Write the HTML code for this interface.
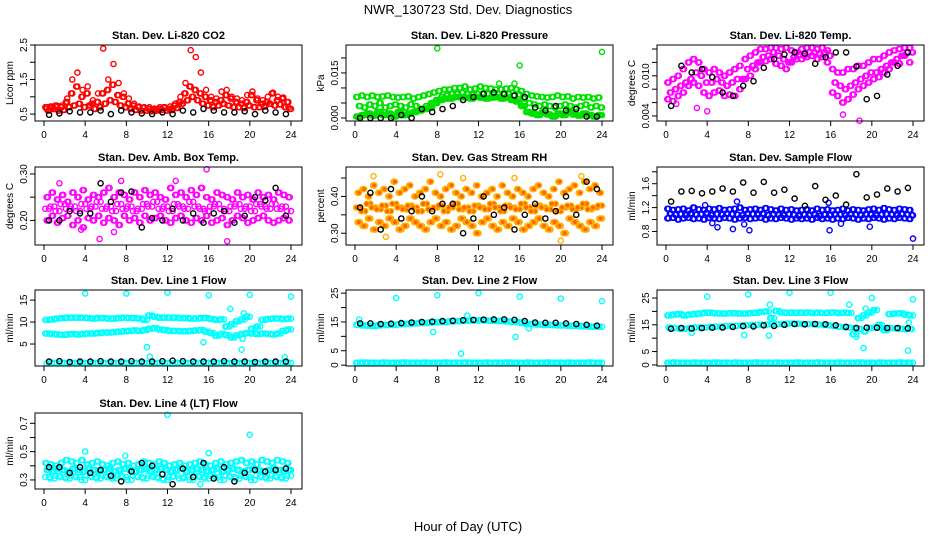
<!DOCTYPE html>
<html><head><meta charset="utf-8"><style>
html,body{margin:0;padding:0;background:#fff;}
svg{display:block;font-family:"Liberation Sans",sans-serif;}
</style></head><body>
<svg id="chart" width="936" height="540" viewBox="0 0 936 540">
<rect x="0" y="0" width="936" height="540" fill="#fff"/>
<text x="468" y="14" text-anchor="middle" font-size="13">NWR_130723 Std. Dev. Diagnostics</text>
<text x="468" y="531" text-anchor="middle" font-size="13">Hour of Day (UTC)</text>
</svg>
<script>
// shared hour arrays
const hA=[0.25,0.75,1.25,1.75,2.25,2.75,3.25,3.75,4.25,4.75,5.25,5.75,6.25,6.75,7.25,7.75,8.25,8.75,9.25,9.75,10.25,10.75,11.25,11.75,12.25,12.75,13.25,13.75,14.25,14.75,15.25,15.75,16.25,16.75,17.25,17.75,18.25,18.75,19.25,19.75,20.25,20.75,21.25,21.75,22.25,22.75,23.25,23.75];
const hB=[0.5,1,1.5,2,2.5,3,3.5,4,4.5,5,5.5,6,6.5,7,7.5,8,8.5,9,9.5,10,10.5,11,11.5,12,12.5,13,13.5,14,14.5,15,15.5,16,16.5,17,17.5,18,18.5,19,19.5,20,20.5,21,21.5,22,22.5,23,23.5,24];
const hC=[0.125,0.625,1.125,1.625,2.125,2.625,3.125,3.625,4.125,4.625,5.125,5.625,6.125,6.625,7.125,7.625,8.125,8.625,9.125,9.625,10.125,10.625,11.125,11.625,12.125,12.625,13.125,13.625,14.125,14.625,15.125,15.625,16.125,16.625,17.125,17.625,18.125,18.625,19.125,19.625,20.125,20.625,21.125,21.625,22.125,22.625,23.125,23.625];
const hD=[0.375,0.875,1.375,1.875,2.375,2.875,3.375,3.875,4.375,4.875,5.375,5.875,6.375,6.875,7.375,7.875,8.375,8.875,9.375,9.875,10.375,10.875,11.375,11.875,12.375,12.875,13.375,13.875,14.375,14.875,15.375,15.875,16.375,16.875,17.375,17.875,18.375,18.875,19.375,19.875,20.375,20.875,21.375,21.875,22.375,22.875,23.375,23.875];
const hK=[0.5,1.5,2.5,3.5,4.5,5.5,6.5,7.5,8.5,9.5,10.5,11.5,12.5,13.5,14.5,15.5,16.5,17.5,18.5,19.5,20.5,21.5,22.5,23.5];
const xTicks=[0,4,8,12,16,20,24];

// CO2
const co2RedA=[0.7,0.72,0.75,0.7,0.85,1.1,1.3,1.0,1.1,0.8,0.85,1.1,1.2,1.35,1.05,1.0,0.8,0.75,0.7,0.68,0.65,0.62,0.65,0.7,0.65,0.75,0.85,1.1,1.3,1.2,1.1,1.0,0.9,0.85,0.9,1.05,0.95,0.85,0.8,0.85,1.05,0.9,0.8,0.85,1.1,0.9,0.95,0.85];
const co2RedB=[0.6,0.65,0.6,0.62,0.7,0.75,0.8,0.7,0.75,0.65,0.7,0.8,0.9,0.85,0.75,0.7,0.65,0.62,0.6,0.6,0.58,0.6,0.62,0.6,0.62,0.68,0.8,0.9,1.0,0.9,0.8,0.75,0.7,0.75,0.8,0.75,0.7,0.7,0.68,0.75,0.7,0.7,0.72,0.8,0.75,0.78,0.7,0.65];
const co2RedC=[0.65,0.68,0.7,0.75,0.95,1.5,1.7,1.2,1.3,0.9,1.1,2.4,1.5,1.95,1.4,1.1,0.95,0.8,0.72,0.7,0.7,0.66,0.7,0.68,0.72,0.8,1.0,1.4,2.35,2.15,1.7,1.2,1.0,0.95,1.15,1.2,1.0,0.95,0.9,1.05,1.15,0.95,0.9,1.0,1.12,1.0,0.98,0.7];
const co2Black=[0.48,0.52,0.58,0.55,0.55,0.6,0.5,0.6,0.55,0.52,0.5,0.55,0.5,0.6,0.55,0.65,0.6,0.55,0.55,0.58,0.5,0.6,0.55,0.5];
// Pressure
const prGreenA=[0.007,0.0075,0.007,0.0075,0.007,0.0072,0.0075,0.007,0.0068,0.007,0.0072,0.0065,0.007,0.0075,0.008,0.0085,0.009,0.0095,0.0095,0.01,0.01,0.0105,0.0095,0.0098,0.0105,0.01,0.0098,0.0095,0.0095,0.0098,0.01,0.0095,0.009,0.008,0.0075,0.0072,0.007,0.0068,0.007,0.0075,0.007,0.0072,0.0065,0.007,0.0068,0.007,0.0065,0.0068];
const prGreenB=[0.004,0.0035,0.0045,0.004,0.005,0.0035,0.004,0.0045,0.004,0.0035,0.0045,0.004,0.003,0.004,0.005,0.006,0.007,0.0075,0.008,0.008,0.0085,0.008,0.0078,0.008,0.0082,0.008,0.0078,0.008,0.0082,0.008,0.0075,0.0078,0.0065,0.005,0.0045,0.004,0.0045,0.004,0.0035,0.004,0.0045,0.004,0.0035,0.004,0.0045,0.0035,0.004,0.0035];
const prGreenC=[0.0005,0.001,0.0015,0.0008,0.002,0.001,0.0015,0.0005,0.002,0.001,0.0015,0.002,0.0025,0.003,0.0035,0.005,0.006,0.0065,0.0065,0.007,0.007,0.0068,0.0065,0.007,0.0068,0.0065,0.0068,0.007,0.0065,0.0068,0.006,0.0055,0.004,0.002,0.0015,0.001,0.0018,0.0012,0.0005,0.0015,0.001,0.002,0.0012,0.0008,0.0015,0.001,0.0005,0.001];
const prOutH=[8,16,24,14,15.5];
const prOutV=[0.0232,0.0175,0.022,0.0115,0.0115];
const prBlack=[0,0,0,0,0.001,0,0.003,0.002,0.003,0.004,0.006,0.007,0.008,0.0085,0.008,0.0075,0.007,0.0035,0.0025,0.004,0.0025,0.003,0.0005,0.0005];
// Li-820 temp
const tmMagA=[0.009,0.0095,0.010,0.011,0.012,0.0125,0.012,0.011,0.0105,0.011,0.0105,0.010,0.0105,0.011,0.0115,0.0125,0.013,0.0135,0.014,0.014,0.0142,0.0142,0.014,0.0142,0.0138,0.0135,0.014,0.0142,0.0142,0.014,0.0142,0.0138,0.011,0.0105,0.0105,0.011,0.011,0.0115,0.0115,0.012,0.0125,0.0125,0.013,0.0135,0.0138,0.014,0.0142,0.0142];
const tmMagB=[0.0075,0.008,0.0085,0.009,0.0095,0.0105,0.01,0.009,0.009,0.0095,0.009,0.0085,0.009,0.0095,0.0095,0.011,0.0115,0.012,0.0128,0.013,0.0135,0.013,0.0125,0.012,0.0128,0.0132,0.013,0.0135,0.0135,0.0132,0.0135,0.013,0.009,0.0085,0.008,0.0085,0.009,0.0095,0.01,0.0105,0.0105,0.011,0.0115,0.012,0.0125,0.013,0.0135,0.0135];
const tmMagC=[0.0065,0.0062,0.007,0.0075,0.0085,0.009,0.0085,0.0075,0.007,0.0075,0.0078,0.007,0.0072,0.007,0.008,0.0095,0.01,0.011,0.012,0.0122,0.0125,0.0118,0.0115,0.011,0.012,0.0125,0.0125,0.0128,0.013,0.0125,0.0128,0.012,0.0075,0.007,0.006,0.0065,0.0072,0.008,0.0085,0.009,0.0095,0.0098,0.0105,0.011,0.012,0.0118,0.013,0.012];
const tmOutH=[4,17.2,18.8,1,3];
const tmOutV=[0.0047,0.0042,0.0033,0.0058,0.0052];
const tmBlack=[0.0055,0.0115,0.0105,0.011,0.0098,0.0075,0.007,0.0085,0.0092,0.0112,0.0125,0.0132,0.0135,0.0133,0.0118,0.0128,0.0135,0.0135,0.0114,0.0065,0.007,0.0102,0.0115,0.0135];
// Amb box temp
const abMagA=[0.25,0.26,0.245,0.255,0.24,0.26,0.25,0.265,0.245,0.255,0.25,0.26,0.27,0.25,0.26,0.255,0.245,0.26,0.25,0.265,0.255,0.26,0.25,0.245,0.27,0.255,0.26,0.25,0.265,0.255,0.27,0.25,0.245,0.26,0.255,0.25,0.245,0.26,0.25,0.255,0.245,0.26,0.25,0.255,0.245,0.26,0.255,0.25];
const abMagB=[0.225,0.23,0.22,0.235,0.225,0.23,0.22,0.235,0.225,0.23,0.24,0.225,0.23,0.22,0.235,0.225,0.23,0.22,0.225,0.235,0.23,0.24,0.225,0.23,0.22,0.235,0.23,0.225,0.24,0.23,0.225,0.22,0.23,0.235,0.225,0.22,0.23,0.235,0.225,0.23,0.22,0.235,0.23,0.225,0.235,0.225,0.23,0.22];
const abMagC=[0.2,0.21,0.195,0.205,0.21,0.19,0.2,0.185,0.205,0.2,0.21,0.195,0.205,0.2,0.19,0.21,0.2,0.205,0.195,0.21,0.2,0.205,0.21,0.2,0.195,0.205,0.21,0.2,0.195,0.205,0.2,0.21,0.195,0.2,0.205,0.19,0.2,0.21,0.205,0.195,0.2,0.205,0.21,0.2,0.195,0.2,0.205,0.2];
const abOutH=[15.8,7.5,1.5,5.4,17.8,6.8,3.6,12.8];
const abOutV=[0.31,0.285,0.28,0.16,0.155,0.175,0.18,0.285];
const abBlack=[0.2,0.2,0.22,0.215,0.215,0.28,0.24,0.26,0.262,0.185,0.205,0.2,0.225,0.2,0.215,0.195,0.215,0.22,0.195,0.21,0.25,0.243,0.27,0.21];
// RH
const rhOrA=[0.41,0.42,0.40,0.43,0.41,0.42,0.40,0.44,0.41,0.42,0.43,0.40,0.41,0.42,0.44,0.41,0.40,0.42,0.43,0.41,0.40,0.42,0.41,0.43,0.40,0.41,0.42,0.40,0.43,0.41,0.40,0.42,0.41,0.40,0.42,0.43,0.41,0.40,0.42,0.44,0.41,0.42,0.43,0.41,0.44,0.42,0.43,0.41];
const rhOrB=[0.37,0.36,0.38,0.37,0.365,0.375,0.36,0.38,0.37,0.365,0.375,0.37,0.36,0.38,0.365,0.37,0.375,0.36,0.37,0.38,0.365,0.37,0.36,0.375,0.37,0.365,0.38,0.37,0.36,0.375,0.37,0.365,0.38,0.37,0.36,0.375,0.37,0.365,0.38,0.36,0.37,0.375,0.365,0.37,0.38,0.365,0.37,0.375];
const rhOrC=[0.33,0.32,0.34,0.31,0.33,0.32,0.34,0.33,0.31,0.32,0.34,0.33,0.32,0.31,0.33,0.34,0.32,0.33,0.31,0.32,0.34,0.33,0.32,0.3,0.33,0.34,0.32,0.31,0.33,0.32,0.34,0.33,0.31,0.32,0.33,0.34,0.32,0.31,0.33,0.32,0.3,0.34,0.33,0.32,0.31,0.33,0.32,0.34];
const rhOutH=[1.8,8.3,15.5,22,3,10.5,20];
const rhOutV=[0.455,0.46,0.45,0.455,0.29,0.45,0.28];
const rhBlack=[0.37,0.41,0.31,0.42,0.34,0.36,0.40,0.36,0.38,0.38,0.30,0.34,0.40,0.35,0.37,0.31,0.35,0.38,0.34,0.36,0.40,0.35,0.44,0.42];
// Sample flow
const sfBlueA=[1.18,1.16,1.17,1.18,1.15,1.2,1.17,1.16,1.18,1.17,1.19,1.16,1.17,1.18,1.2,1.16,1.17,1.18,1.16,1.19,1.17,1.15,1.18,1.16,1.17,1.15,1.16,1.17,1.15,1.18,1.16,1.17,1.15,1.16,1.18,1.15,1.17,1.16,1.15,1.17,1.18,1.16,1.19,1.17,1.16,1.18,1.17,1.16];
const sfBlueB=[1.1,1.08,1.09,1.07,1.1,1.08,1.09,1.11,1.07,1.09,1.08,1.1,1.09,1.08,1.07,1.1,1.09,1.08,1.1,1.07,1.09,1.08,1.07,1.09,1.08,1.06,1.08,1.07,1.09,1.06,1.08,1.07,1.09,1.08,1.07,1.09,1.08,1.07,1.09,1.08,1.07,1.08,1.09,1.08,1.07,1.09,1.08,1.07];
const sfBlueC=[1.02,1.03,1.0,1.02,1.03,1.01,1.02,1.0,1.03,1.02,1.01,1.03,1.02,1.0,1.02,1.03,1.01,1.02,1.03,1.0,1.02,1.01,1.03,1.02,1.0,1.02,1.01,1.02,1.0,1.03,1.01,1.02,1.0,1.02,1.01,1.03,1.02,1.0,1.02,1.01,1.03,1.02,1.0,1.02,1.01,1.03,1.02,1.01];
const sfOutH=[4.5,5,8.1,6.5,15.9,19.8,24,7.6,17,6.9,15.8,3.8];
const sfOutV=[0.94,0.87,0.82,0.84,0.82,0.88,0.68,0.92,0.93,1.3,1.28,1.24];
const sfBlack=[1.3,1.47,1.48,1.44,1.47,1.52,1.47,1.62,1.45,1.63,1.45,1.5,1.35,1.23,1.56,1.33,1.4,1.25,1.76,1.37,1.42,1.52,1.47,1.53];
// Line 1
const l1Top=[10.5,10.6,10.8,10.9,11,11,11,11,10.9,10.8,10.9,10.9,10.8,10.8,10.9,11,10.9,10.9,10.8,10.5,11.5,11.2,11,11,11,11,10.9,10.9,10.8,10.8,10.9,10.9,10.7,10.5,10.6,9,9.5,10.2,10.6,11.2,8.5,9,10.5,10.7,10.8,10.8,10.7,10.8];
const l1Mid=[7.4,7.3,7.2,7.1,7.2,7.3,7.2,7.3,7.4,7.4,7.5,7.6,7.6,7.7,7.8,7.9,8.0,8.1,8.0,8.2,8.5,8.6,8.3,8.2,8.0,8.0,7.9,7.9,8.0,8.1,8.2,7.8,7.5,6.9,7.3,7.0,6.5,7.0,7.3,7.5,7.4,7.3,7.4,7.3,7.2,7.4,8.0,8.3];
const l1Low=[0.6,0.7,0.65,0.7,0.6,0.7,0.65,0.7,0.6,0.7,0.65,0.7,0.6,0.7,0.65,0.7,0.6,0.7,0.65,0.7,0.6,0.7,0.65,0.7,0.6,0.7,0.65,0.7,0.6,0.7,0.65,0.7,0.6,0.7,0.65,0.7,0.6,0.7,0.65,0.7,0.6,0.7,0.65,0.7,0.6,0.7,0.65,0.7];
const l1OutH=[4,8,12,16,20,24,10,10.3,15.5,19.2,18.1,19.4,23.4,19.3];
const l1OutV=[16.5,16.5,16.7,16.1,16.2,15.8,4.3,2.1,5.4,3.7,13,12,2.0,6.2];
const l1Black=[1.0,1.1,0.9,1.0,1.0,1.1,1.0,1.0,1.1,1.0,1.0,1.1,1.2,1.1,1.0,1.0,1.0,1.1,1.0,1.0,0.9,1.0,1.0,1.0];
// Line 2
const l2Band=[14,13.8,13.7,13.6,13.8,13.9,14,14,14.2,14.3,14.4,14.5,14.6,14.6,14.8,14.9,15,15,15.2,15.3,15.3,15.4,15.5,15.5,15.6,15.5,15.4,15.4,15.3,15.2,15,15,14.6,14.3,14.2,14.1,14,14,13.9,13.8,13.8,13.7,13.6,13.6,13.5,13.4,13.3,13.3];
const l2Low=[0.8,0.9,0.8,0.85,0.8,0.9,0.8,0.85,0.8,0.9,0.8,0.85,0.8,0.9,0.8,0.85,0.8,0.9,0.8,0.85,0.8,0.9,0.8,0.85,0.8,0.9,0.8,0.85,0.8,0.9,0.8,0.85,0.8,0.9,0.8,0.85,0.8,0.9,0.8,0.85,0.8,0.9,0.8,0.85,0.8,0.9,0.8,0.85];
const l2OutH=[4,8,12,16,20,24,7.6,10.3,15.6,10.9,0.4,16.9];
const l2OutV=[23.3,24.3,25,23.8,23.1,22.2,11.5,4,9.8,17.2,15.8,12.8];
const l2Black=[14.5,14.5,14.3,14.4,14.6,14.8,15,15.1,15.3,15.4,15.6,15.7,15.8,15.9,15.9,15.7,15.3,14.8,14.7,14.7,14.5,14.3,14.0,13.7];
// Line 3
const l3Top=[18.5,18.8,19,18.5,18.8,19,19.2,19.5,19.5,19.3,19.2,19.2,19.3,19.3,19.2,19.2,19.4,19.5,19.8,20,17.5,20.2,19.6,19.5,19.5,19.5,19.5,19.6,19.4,19.5,19.4,19.5,19.6,19.4,19.5,19.4,11.5,17.5,18.5,19.5,20.5,15,13,19,19.2,19.3,18.8,18.5];
const l3Mid=[14,13.8,13.5,13.5,13.8,14,14,14,14.2,14.3,14.3,14.5,14.5,14.6,14.7,14.8,14.9,15,15,15.1,15.2,15.2,15.3,15.4,15.5,15.4,15.3,15.3,15.2,15.1,15,14.8,14.5,14.3,14.1,14,13.8,13.5,12.5,13.8,14,14,13.8,13.8,13.6,13.5,13.3,13.4];
const l3Low=[0.8,0.9,0.8,0.85,0.8,0.9,0.8,0.85,0.8,0.9,0.8,0.85,0.8,0.9,0.8,0.85,0.8,0.9,0.8,0.85,0.8,0.9,0.8,0.85,0.8,0.9,0.8,0.85,0.8,0.9,0.8,0.85,0.8,0.9,0.8,0.85,0.8,0.9,0.8,0.85,0.8,0.9,0.8,0.85,0.8,0.9,0.8,0.85];
const l3OutH=[4,8,12,16,20,24,7.6,10,10.1,17.8,18.5,19.2,23.5,2.5,19.4,23.6];
const l3OutV=[25.5,26.3,27,27,25,24.5,11.2,11,22.5,22.5,10.5,6.3,5.3,12,21,15.8];
const l3Black=[13.5,13.8,13.6,13.8,13.9,14,14.2,14.5,14.4,14.8,14.6,15,15.3,15.2,15.3,15.2,14.8,14.2,13.8,13.9,13.9,13.8,13.8,13.7];
// Line 4
const l4A=[0.42,0.41,0.40,0.42,0.44,0.43,0.42,0.44,0.41,0.42,0.43,0.41,0.4,0.42,0.43,0.41,0.42,0.4,0.41,0.43,0.42,0.41,0.43,0.42,0.4,0.41,0.42,0.4,0.41,0.42,0.43,0.41,0.4,0.42,0.43,0.41,0.42,0.43,0.44,0.42,0.43,0.41,0.44,0.43,0.42,0.44,0.43,0.42];
const l4B=[0.37,0.36,0.38,0.37,0.36,0.38,0.37,0.36,0.38,0.37,0.36,0.37,0.38,0.36,0.37,0.38,0.37,0.36,0.37,0.38,0.36,0.37,0.38,0.37,0.36,0.37,0.38,0.36,0.37,0.38,0.37,0.36,0.37,0.38,0.36,0.37,0.38,0.37,0.36,0.37,0.38,0.37,0.36,0.37,0.38,0.37,0.36,0.37];
const l4C=[0.32,0.31,0.33,0.32,0.31,0.33,0.32,0.3,0.33,0.32,0.31,0.33,0.32,0.31,0.33,0.32,0.3,0.33,0.32,0.31,0.33,0.32,0.31,0.3,0.32,0.33,0.31,0.32,0.3,0.33,0.32,0.31,0.33,0.32,0.3,0.33,0.32,0.31,0.33,0.32,0.3,0.33,0.32,0.31,0.33,0.32,0.31,0.33];
const l4OutH=[12,20,4,16,15.2,7.9];
const l4OutV=[0.76,0.62,0.5,0.49,0.27,0.47];
const l4Black=[0.39,0.39,0.35,0.39,0.35,0.37,0.33,0.29,0.36,0.42,0.40,0.34,0.27,0.38,0.32,0.42,0.31,0.39,0.29,0.35,0.37,0.36,0.37,0.38];

const NS="http://www.w3.org/2000/svg";
const svg=document.getElementById('chart');
const colLeft=[35,346,657], boxW=267;
const rows=[[45,121],[167,245],[290,366],[413,489]];

function makePanel(p){
  const L=colLeft[p.col], T=rows[p.row][0], B=rows[p.row][1];
  const xs=h=>L+9+h*247/24;
  const ys=v=>B-(v-p.yb)/(p.yt-p.yb)*(B-T);
  const g=document.createElementNS(NS,'g');
  
  
  svg.appendChild(g);
  const t=document.createElementNS(NS,'text');
  
  
  t.setAttribute('x',L+boxW/2);t.setAttribute('y',T-6);t.setAttribute('text-anchor','middle');
  t.setAttribute('font-size','11');t.setAttribute('font-weight','bold');t.textContent=p.title;g.appendChild(t);
  const yl=document.createElementNS(NS,'text');
  
  
  const cy=(T+B)/2;
  yl.setAttribute('transform','translate('+(L-22)+','+cy+') rotate(-90)');
  yl.setAttribute('text-anchor','middle');yl.setAttribute('font-size','10');yl.textContent=p.ylab;g.appendChild(yl);
  const pts=document.createElementNS(NS,'g');
  
  
  pts.setAttribute('fill','none');pts.setAttribute('stroke-width','1.4');
  g.appendChild(pts);
  p.series.forEach(s=>{
    s.v.forEach((v,i)=>{
      const c=document.createElementNS(NS,'circle');
      
      
      c.setAttribute('cx',xs(s.h[i]).toFixed(1));c.setAttribute('cy',ys(v).toFixed(1));
      c.setAttribute('r',s.r||2.6);c.setAttribute('stroke',s.c);
      if(s.f){c.setAttribute('fill',s.f);}
      pts.appendChild(c);
    });
  });
  const r=document.createElementNS(NS,'rect');
  
  
  r.setAttribute('x',L);r.setAttribute('y',T);r.setAttribute('width',boxW);r.setAttribute('height',B-T);
  r.setAttribute('fill','none');r.setAttribute('stroke','#000');r.setAttribute('stroke-width','1');g.appendChild(r);
  xTicks.forEach(h=>{
    const x=xs(h);
    const ln=document.createElementNS(NS,'line');
    
    
    ln.setAttribute('x1',x);ln.setAttribute('x2',x);ln.setAttribute('y1',B);ln.setAttribute('y2',B+5);ln.setAttribute('stroke','#000');g.appendChild(ln);
    const tx=document.createElementNS(NS,'text');
    
    
    tx.setAttribute('x',x);tx.setAttribute('y',B+17);tx.setAttribute('text-anchor','middle');tx.setAttribute('font-size','10');tx.textContent=h;g.appendChild(tx);
  });
  p.ticks.forEach(v=>{
    const y=ys(v);
    const ln=document.createElementNS(NS,'line');
    
    
    ln.setAttribute('x1',L-5);ln.setAttribute('x2',L);ln.setAttribute('y1',y);ln.setAttribute('y2',y);ln.setAttribute('stroke','#000');g.appendChild(ln);
  });
  p.labels.forEach(v=>{
    const y=ys(parseFloat(v));
    const tx=document.createElementNS(NS,'text');
    
    
    tx.setAttribute('transform','translate('+(L-8)+','+y+') rotate(-90)');
    tx.setAttribute('text-anchor','middle');tx.setAttribute('font-size','10');tx.textContent=v;g.appendChild(tx);
  });
}

const panels=[
 {name:'co2',col:0,row:0,title:'Stan. Dev. Li-820 CO2',ylab:'Licor ppm',yb:0.30,yt:2.50,ticks:[0.5,1,1.5,2,2.5],labels:['0.5','1.5','2.5'],
  series:[{h:hA,v:co2RedA,c:'#ff0000'},{h:hC,v:co2RedA,c:'#ff0000'},{h:hB,v:co2RedB,c:'#ff0000'},{h:hD,v:co2RedB,c:'#ff0000'},{h:hA,v:co2RedC,c:'#ff0000'},{h:hK,v:co2Black,c:'#000'}]},
 {name:'pressure',col:1,row:0,title:'Stan. Dev. Li-820 Pressure',ylab:'kPa',yb:-0.001,yt:0.0243,ticks:[0,0.005,0.01,0.015,0.02],labels:['0.000','0.015'],
  series:[{h:hA,v:prGreenA,c:'#00e000'},{h:hC,v:prGreenA,c:'#00e000'},{h:hB,v:prGreenB,c:'#00e000'},{h:hD,v:prGreenB,c:'#00e000'},{h:hA,v:prGreenC,c:'#00e000'},{h:hB,v:prGreenC,c:'#00e000'},{h:hC,v:prGreenC,c:'#00e000'},{h:hD,v:prGreenC,c:'#00e000'},{h:prOutH,v:prOutV,c:'#00e000'},{h:hK,v:prBlack,c:'#000'}]},
 {name:'li820-temp',col:2,row:0,title:'Stan. Dev. Li-820 Temp.',ylab:'degrees C',yb:0.00325,yt:0.0146,ticks:[0.004,0.006,0.008,0.010,0.012,0.014],labels:['0.004','0.010'],
  series:[{h:hA,v:tmMagA,c:'#ff00ff'},{h:hC,v:tmMagA,c:'#ff00ff'},{h:hB,v:tmMagB,c:'#ff00ff'},{h:hD,v:tmMagB,c:'#ff00ff'},{h:hA,v:tmMagC,c:'#ff00ff'},{h:hC,v:tmMagC,c:'#ff00ff'},{h:tmOutH,v:tmOutV,c:'#ff00ff'},{h:hK,v:tmBlack,c:'#000'}]},
 {name:'amb-box-temp',col:0,row:1,title:'Stan. Dev. Amb. Box Temp.',ylab:'degrees C',yb:0.147,yt:0.315,ticks:[0.2,0.25,0.3],labels:['0.20','0.30'],
  series:[{h:hA,v:abMagA,c:'#ff00ff'},{h:hD,v:abMagA,c:'#ff00ff'},{h:hB,v:abMagB,c:'#ff00ff'},{h:hC,v:abMagB,c:'#ff00ff'},{h:hA,v:abMagC,c:'#ff00ff'},{h:hD,v:abMagC,c:'#ff00ff'},{h:abOutH,v:abOutV,c:'#ff00ff'},{h:hK,v:abBlack,c:'#000'}]},
 {name:'gas-stream-rh',col:1,row:1,title:'Stan. Dev. Gas Stream RH',ylab:'percent',yb:0.268,yt:0.48,ticks:[0.3,0.35,0.4,0.45],labels:['0.30','0.40'],
  series:[{h:hA,v:rhOrA,c:'#ffb000',f:'#ff6000'},{h:hD,v:rhOrA,c:'#ffb000',f:'#ff6000'},{h:hB,v:rhOrB,c:'#ffb000',f:'#ff6000'},{h:hC,v:rhOrB,c:'#ffb000',f:'#ff6000'},{h:hA,v:rhOrC,c:'#ffb000',f:'#ff6000'},{h:hB,v:rhOrC,c:'#ffb000',f:'#ff6000'},{h:hD,v:rhOrC,c:'#ffb000',f:'#ff6000'},{h:rhOutH,v:rhOutV,c:'#ffb000'},{h:hK,v:rhBlack,c:'#000'}]},
 {name:'sample-flow',col:2,row:1,title:'Stan. Dev. Sample Flow',ylab:'ml/min',yb:0.573,yt:1.88,ticks:[0.8,1.0,1.2,1.4,1.6,1.8],labels:['0.8','1.2','1.6'],
  series:[{h:hA,v:sfBlueA,c:'#0000ff'},{h:hC,v:sfBlueA,c:'#0000ff'},{h:hB,v:sfBlueB,c:'#0000ff'},{h:hD,v:sfBlueB,c:'#0000ff'},{h:hA,v:sfBlueC,c:'#0000ff'},{h:hC,v:sfBlueC,c:'#0000ff'},{h:sfOutH,v:sfOutV,c:'#0000ff'},{h:hK,v:sfBlack,c:'#000'}]},
 {name:'line1-flow',col:0,row:2,title:'Stan. Dev. Line 1 Flow',ylab:'ml/min',yb:0,yt:17.3,ticks:[5,10,15],labels:['5','10','15'],
  series:[{h:hA,v:l1Top,c:'#00ffff'},{h:hB,v:l1Top,c:'#00ffff'},{h:hC,v:l1Top,c:'#00ffff'},{h:hA,v:l1Mid,c:'#00ffff'},{h:hB,v:l1Mid,c:'#00ffff'},{h:hC,v:l1Mid,c:'#00ffff'},{h:hA,v:l1Low,c:'#00ffff'},{h:hB,v:l1Low,c:'#00ffff'},{h:l1OutH,v:l1OutV,c:'#00ffff'},{h:hK,v:l1Black,c:'#000'}]},
 {name:'line2-flow',col:1,row:2,title:'Stan. Dev. Line 2 Flow',ylab:'ml/min',yb:-0.3,yt:26.1,ticks:[0,5,10,15,20,25],labels:['0','5','15','25'],
  series:[{h:hA,v:l2Band,c:'#00ffff'},{h:hB,v:l2Band,c:'#00ffff'},{h:hC,v:l2Band,c:'#00ffff'},{h:hA,v:l2Low,c:'#00ffff'},{h:hB,v:l2Low,c:'#00ffff'},{h:hC,v:l2Low,c:'#00ffff'},{h:l2OutH,v:l2OutV,c:'#00ffff'},{h:hK,v:l2Black,c:'#000'}]},
 {name:'line3-flow',col:2,row:2,title:'Stan. Dev. Line 3 Flow',ylab:'ml/min',yb:-0.4,yt:28,ticks:[0,5,10,15,20,25],labels:['0','5','15','25'],
  series:[{h:hA,v:l3Top,c:'#00ffff'},{h:hB,v:l3Top,c:'#00ffff'},{h:hC,v:l3Top,c:'#00ffff'},{h:hA,v:l3Mid,c:'#00ffff'},{h:hD,v:l3Mid,c:'#00ffff'},{h:hA,v:l3Low,c:'#00ffff'},{h:hB,v:l3Low,c:'#00ffff'},{h:hC,v:l3Low,c:'#00ffff'},{h:l3OutH,v:l3OutV,c:'#00ffff'},{h:hK,v:l3Black,c:'#000'}]},
 {name:'line4-lt-flow',col:0,row:3,title:'Stan. Dev. Line 4 (LT) Flow',ylab:'ml/min',yb:0.236,yt:0.773,ticks:[0.3,0.4,0.5,0.6,0.7],labels:['0.3','0.5','0.7'],
  series:[{h:hA,v:l4A,c:'#00ffff'},{h:hC,v:l4A,c:'#00ffff'},{h:hB,v:l4B,c:'#00ffff'},{h:hA,v:l4B,c:'#00ffff'},{h:hD,v:l4B,c:'#00ffff'},{h:hB,v:l4C,c:'#00ffff'},{h:hC,v:l4C,c:'#00ffff'},{h:l4OutH,v:l4OutV,c:'#00ffff'},{h:hK,v:l4Black,c:'#000'}]}
];
panels.forEach(makePanel);
</script>
</body></html>
